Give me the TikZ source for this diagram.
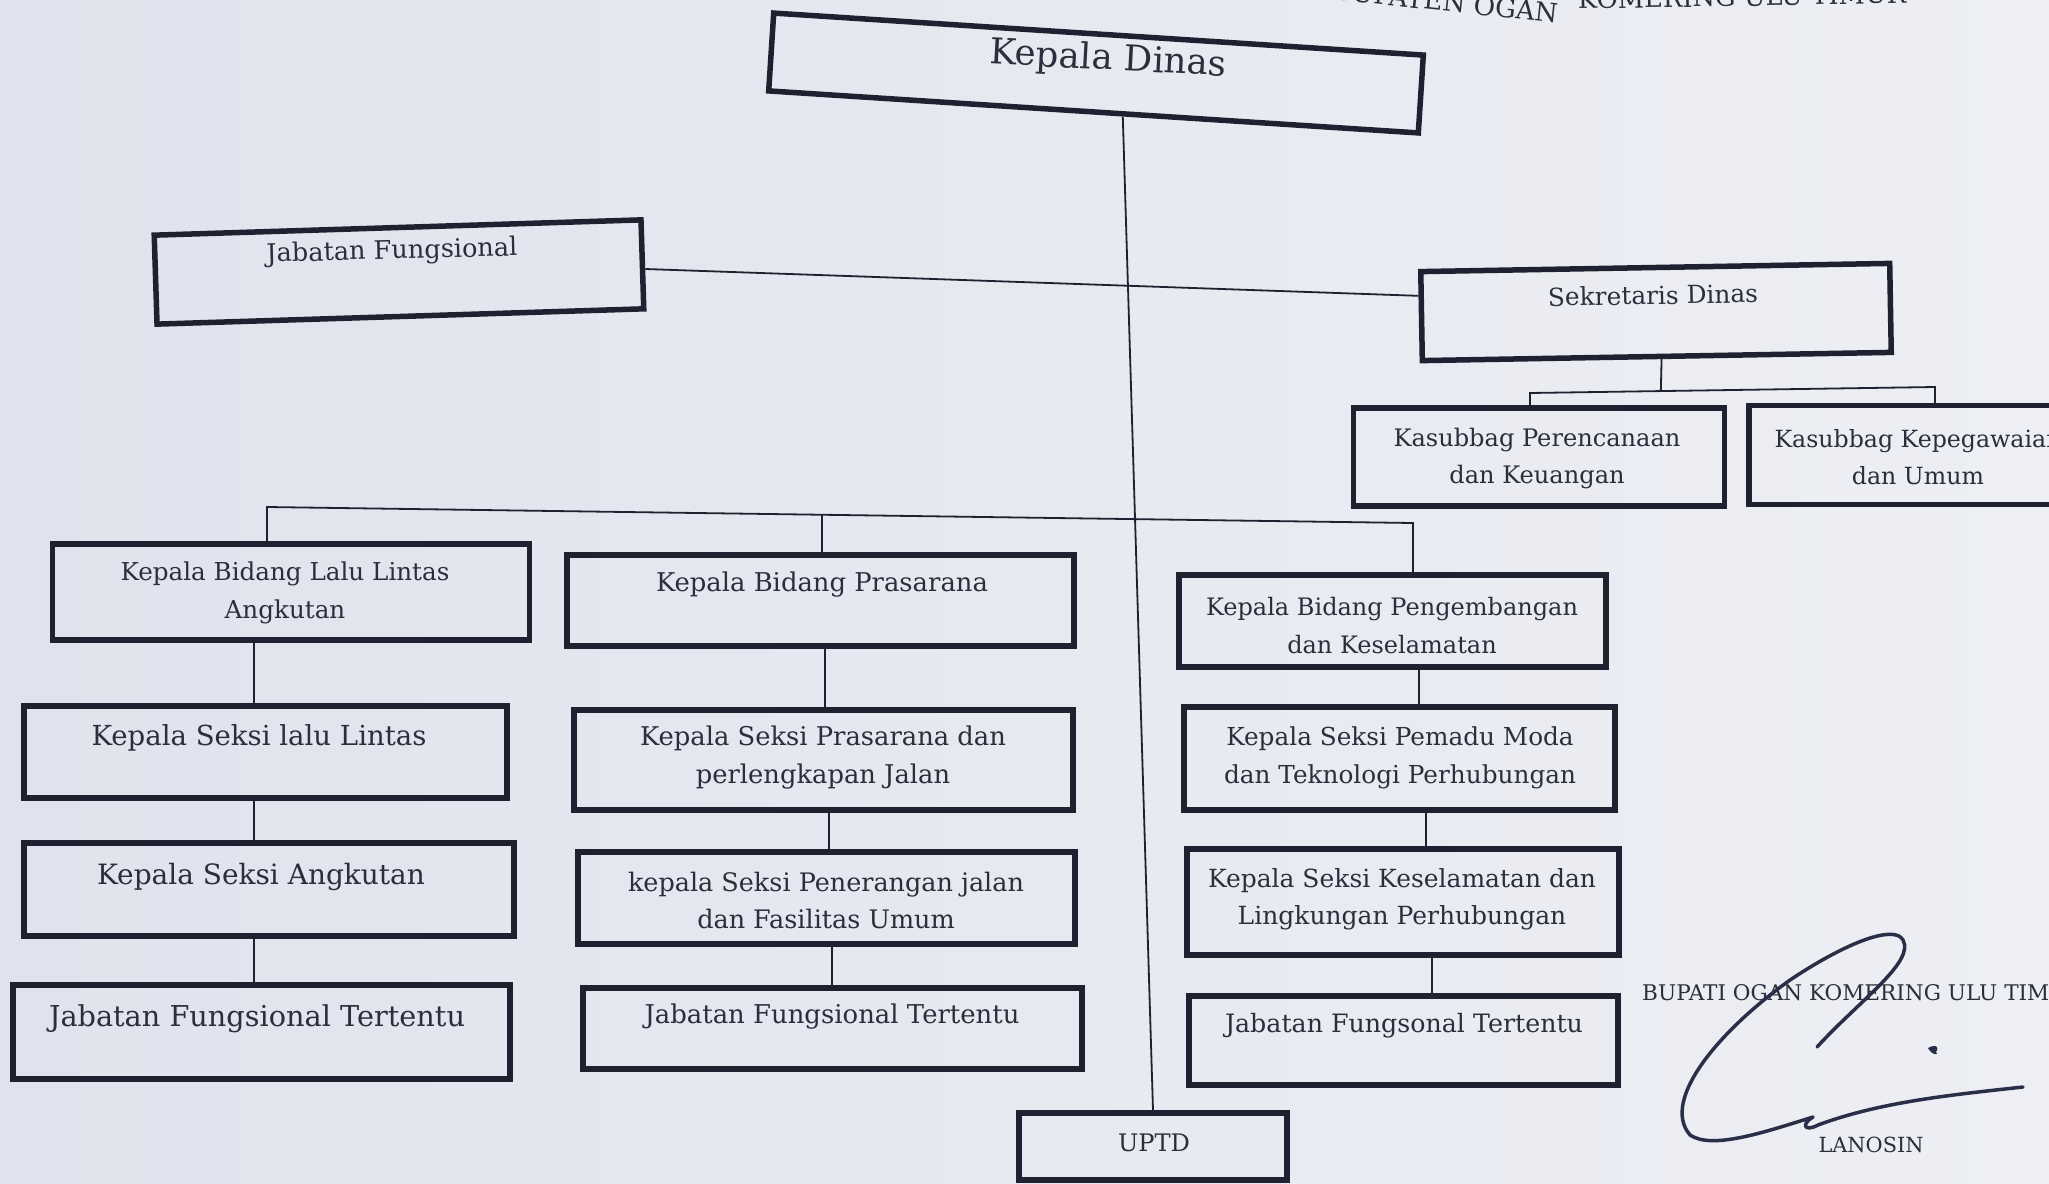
\documentclass[tikz,border=0pt]{standalone}
\usepackage{fontspec}
\setmainfont{DejaVu Serif}
\usetikzlibrary{calc}
\definecolor{ink}{HTML}{1E2130}
\definecolor{txt}{HTML}{2B2E3C}
\definecolor{sigink}{HTML}{2A2F48}
\definecolor{paperL}{HTML}{E0E3ED}
\definecolor{paperR}{HTML}{EDEFF4}
\newlength\fitlen
\newcommand\fitfont[3]{\settowidth\fitlen{\fontsize{10pt}{12pt}\selectfont #2}\pgfmathsetmacro\fitsz{10*#1/\fitlen}\fontsize{\fitsz pt}{#3pt}\selectfont}
\tikzset{
  box/.style={draw=ink, line width=5.5pt, inner sep=0pt},
  lbl/.style={text=txt, inner sep=0pt, align=center},
  conn/.style={draw=ink, line width=1.8pt},
  sig/.style={draw=sigink, line width=3.5pt, line cap=round, line join=round}
}
\begin{document}
\begin{tikzpicture}[x=1pt,y=-1pt]
\useasboundingbox (0,0) rectangle (2049,1183);
\shade[left color=paperL, right color=paperR] (0,0) rectangle (2049,1183);

% top header (cut off by the page edge, as in the photo)
\node[lbl, anchor=base east, rotate=-6, font={\fitfont{207}{UPATEN OGAN}{20}}] (hdA) at (1557,23) {KABUPATEN OGAN};
\node[lbl, anchor=base west, rotate=1, font={\fitfont{328}{KOMERING ULU TIMUR}{20}}] (hdB) at (1578,9) {KOMERING ULU TIMUR};

% boxes
\node[box, rotate=-3.7, minimum width=651, minimum height=78] (kd) at (1096,73) {};
\node[lbl, rotate=-3, font={\fitfont{237}{Kepala Dinas}{40}}] (kdt) at (1108,60) {Kepala Dinas};

\node[box, rotate=1.8, minimum width=487, minimum height=89] (jf) at (399,272) {};
\node[lbl, rotate=1.5, font={\fitfont{251}{Jabatan Fungsional}{30}}] (jft) at (392,252) {Jabatan Fungsional};

\node[box, rotate=1, minimum width=469, minimum height=89] (sd) at (1656,312) {};
\node[lbl, rotate=1, font={\fitfont{210}{Sekretaris Dinas}{30}}] (sdt) at (1653,295) {Sekretaris Dinas};

\node[box, minimum width=371, minimum height=98] (kp) at (1539,457) {};
\node[lbl, font={\fitfont{287}{Kasubbag Perencanaan}{37}}] (kpt) at (1537,459) {Kasubbag Perencanaan\\dan Keuangan};

\node[box, minimum width=346, minimum height=99] (kku) at (1922,455) {};
\node[lbl, font={\fitfont{287}{Kasubbag Kepegawaian}{37}}] (kkut) at (1918,457) {Kasubbag Kepegawaian\\dan Umum};

% column 1
\node[box, minimum width=477, minimum height=96] (kblla) at (291,592) {};
\node[lbl, font={\fitfont{329}{Kepala Bidang Lalu Lintas}{38}}] (kbllat) at (285,593) {Kepala Bidang Lalu Lintas\\Angkutan};
\node[box, minimum width=483, minimum height=92] (ksll) at (265.5,752) {};
\node[lbl, font={\fitfont{335}{Kepala Seksi lalu Lintas}{38}}] (ksllt) at (259,738) {Kepala Seksi lalu Lintas};
\node[box, minimum width=490, minimum height=93] (ksa) at (269,889.5) {};
\node[lbl, font={\fitfont{328}{Kepala Seksi Angkutan}{38}}] (ksat) at (261,877) {Kepala Seksi Angkutan};
\node[box, minimum width=497, minimum height=94] (jfa) at (261.5,1032) {};
\node[lbl, font={\fitfont{416}{Jabatan Fungsional Tertentu}{38}}] (jfat) at (257,1019) {Jabatan Fungsional Tertentu};

% column 2
\node[box, minimum width=507, minimum height=91] (kbp) at (820.5,600.5) {};
\node[lbl, font={\fitfont{332}{Kepala Bidang Prasarana}{38}}] (kbpt) at (822,585) {Kepala Bidang Prasarana};
\node[box, minimum width=499, minimum height=100] (kspp) at (823.5,760) {};
\node[lbl, font={\fitfont{366}{Kepala Seksi Prasarana dan}{38}}] (ksppt) at (823,758) {Kepala Seksi Prasarana dan\\perlengkapan Jalan};
\node[box, minimum width=497, minimum height=92] (kspj) at (826.5,898) {};
\node[lbl, font={\fitfont{396}{kepala Seksi Penerangan jalan}{37}}] (kspjt) at (826,900) {kepala Seksi Penerangan jalan\\dan Fasilitas Umum};
\node[box, minimum width=499, minimum height=81] (jfb) at (832.5,1028.5) {};
\node[lbl, font={\fitfont{375}{Jabatan Fungsional Tertentu}{38}}] (jfbt) at (832,1017) {Jabatan Fungsional Tertentu};

% column 3
\node[box, minimum width=427, minimum height=92] (kbpk) at (1392.5,621) {};
\node[lbl, font={\fitfont{372}{Kepala Bidang Pengembangan}{38}}] (kbpkt) at (1392,626) {Kepala Bidang Pengembangan\\dan Keselamatan};
\node[box, minimum width=431, minimum height=103] (kspm) at (1399.5,758.5) {};
\node[lbl, font={\fitfont{352}{dan Teknologi Perhubungan}{38}}] (kspmt) at (1400,758) {Kepala Seksi Pemadu Moda\\dan Teknologi Perhubungan};
\node[box, minimum width=432, minimum height=106] (kskl) at (1403,902) {};
\node[lbl, font={\fitfont{388}{Kepala Seksi Keselamatan dan}{37}}] (tsklt) at (1402,899) {Kepala Seksi Keselamatan dan\\Lingkungan Perhubungan};
\node[box, minimum width=429, minimum height=89] (jfc) at (1403.5,1040.5) {};
\node[lbl, font={\fitfont{358}{Jabatan Fungsonal Tertentu}{38}}] (jfct) at (1404,1026) {Jabatan Fungsonal Tertentu};

% UPTD
\node[box, minimum width=268, minimum height=67] (uptd) at (1153,1146.5) {};
\node[lbl, font={\fitfont{72}{UPTD}{30}}] (uptdt) at (1154,1143) {UPTD};

% connectors
\draw[conn] ($(kd.south west)!0.545!(kd.south east)$) -- (uptd.north);
\draw[conn] ($(jf.north east)!0.55!(jf.south east)$) -- ($(sd.north west)!0.285!(sd.south west)$);

\coordinate (kbL) at (1530,393);
\coordinate (kbR) at (1935,387);
\coordinate (kbM) at ($(kbL)!0.323!(kbR)$);
\draw[conn] (kbL |- kp.north) -- (kbL) -- (kbR) -- (kbR |- kku.north);
\draw[conn] ($(sd.south west)!0.51!(sd.south east)$) -- (kbM);

\coordinate (bbL) at (267,507);
\coordinate (bbR) at (1413,523);
\coordinate (bbM) at ($(bbL)!0.484!(bbR)$);
\draw[conn] (bbL |- kblla.north) -- (bbL) -- (bbR) -- (bbR |- kbpk.north);
\draw[conn] (bbM) -- (bbM |- kbp.north);

\coordinate (ca) at (254,0);
\draw[conn] (ca |- kblla.south) -- (ca |- ksll.north);
\draw[conn] (ca |- ksll.south) -- (ca |- ksa.north);
\draw[conn] (ca |- ksa.south) -- (ca |- jfa.north);

\coordinate (cb1) at (825,0);
\coordinate (cb2) at (829,0);
\coordinate (cb3) at (832,0);
\draw[conn] (cb1 |- kbp.south) -- (cb1 |- kspp.north);
\draw[conn] (cb2 |- kspp.south) -- (cb2 |- kspj.north);
\draw[conn] (cb3 |- kspj.south) -- (cb3 |- jfb.north);

\coordinate (cc1) at (1419,0);
\coordinate (cc2) at (1426,0);
\coordinate (cc3) at (1432,0);
\draw[conn] (cc1 |- kbpk.south) -- (cc1 |- kspm.north);
\draw[conn] (cc2 |- kspm.south) -- (cc2 |- kskl.north);
\draw[conn] (cc3 |- kskl.south) -- (cc3 |- jfc.north);

% signature block
\node[lbl, anchor=base west, font={\fitfont{407}{BUPATI OGAN KOMERING ULU TIM}{30}}] (bup) at (1642,1000) {BUPATI OGAN KOMERING ULU TIMUR};
\node[lbl, font={\fitfont{105}{LANOSIN}{30}}] (lan) at (1871,1145) {LANOSIN};
\draw[sig] (1817,1047) .. controls (1860,1000) and (1915,962) .. (1903,940)
  .. controls (1895,925) and (1850,940) .. (1790,980)
  .. controls (1720,1030) and (1660,1100) .. (1690,1135)
  .. controls (1712,1150) and (1765,1132) .. (1813,1117)
  .. controls (1800,1125) and (1805,1132) .. (1818,1125)
  .. controls (1880,1102) and (1950,1095) .. (2023,1087);
\fill[sigink] (1928,1048) .. controls (1935,1044) and (1940,1046) .. (1936,1052) .. controls (1940,1055) and (1932,1056) .. (1928,1048) -- cycle;
\end{tikzpicture}
\end{document}
